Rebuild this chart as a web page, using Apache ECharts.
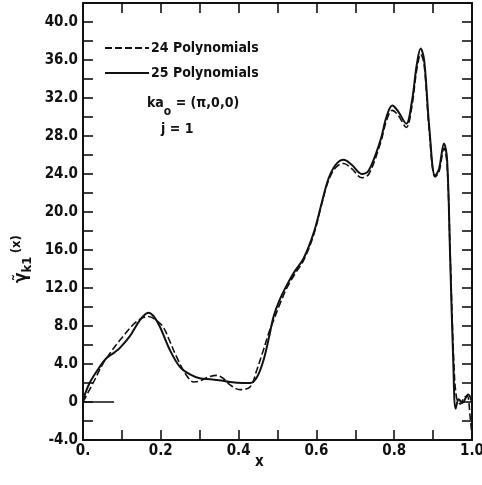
<!DOCTYPE html>
<html>
<head>
<meta charset="utf-8">
<script src="https://cdn.jsdelivr.net/npm/echarts@6/dist/echarts.min.js"></script>
<style>
html,body{margin:0;padding:0;background:#fff;}
#c{width:482px;height:485px;}
</style>
</head>
<body>
<div id="c"></div>
<script>
// ---- data ----
const seriesNames = ['24 Polynomials', '25 Polynomials'];

const dashedX = [0.0, 0.026, 0.052, 0.069, 0.085, 0.103, 0.128, 0.15, 0.168, 0.185, 0.206, 0.222, 0.24, 0.266, 0.285, 0.30, 0.32, 0.344, 0.36, 0.378, 0.404, 0.43, 0.447, 0.464, 0.477, 0.49, 0.505, 0.524, 0.545, 0.567, 0.593, 0.614, 0.631, 0.65, 0.67, 0.69, 0.717, 0.735, 0.765, 0.78, 0.795, 0.81, 0.831, 0.845, 0.858, 0.868, 0.877, 0.89, 0.905, 0.915, 0.928, 0.936, 0.944, 0.953, 0.96, 0.97, 0.98, 0.988, 0.995, 1.0];
const dashedY = [0.0, 2.0, 4.1, 5.1, 6.0, 6.9, 8.1, 8.8, 9.0, 8.7, 7.9, 6.5, 4.8, 2.8, 2.1, 2.2, 2.6, 2.8, 2.5, 1.8, 1.3, 1.6, 3.4, 5.5, 7.2, 8.6, 10.2, 12.0, 13.5, 14.9, 17.6, 20.9, 23.3, 24.7, 25.1, 24.6, 23.6, 24.0, 27.3, 29.6, 30.7, 30.2, 28.9, 31.0, 35.0, 36.6, 35.5, 28.6, 23.7, 24.2, 26.7, 25.0, 15.5, 4.5, 0.5, -0.2, 0.5, 0.6, -1.5, -3.6];

const solidX = [0.0, 0.017, 0.043, 0.06, 0.08, 0.095, 0.12, 0.146, 0.168, 0.182, 0.198, 0.223, 0.249, 0.275, 0.30, 0.327, 0.35, 0.378, 0.41, 0.43, 0.447, 0.464, 0.477, 0.49, 0.505, 0.524, 0.545, 0.567, 0.593, 0.614, 0.631, 0.65, 0.67, 0.69, 0.717, 0.735, 0.765, 0.78, 0.795, 0.81, 0.831, 0.845, 0.858, 0.868, 0.877, 0.89, 0.905, 0.915, 0.928, 0.936, 0.944, 0.952, 0.958, 0.966, 0.975, 0.99, 1.0];
const solidY = [0.2, 2.0, 3.7, 4.6, 5.2, 5.7, 6.9, 8.6, 9.4, 9.0, 7.9, 5.5, 3.7, 2.9, 2.5, 2.4, 2.3, 2.1, 2.0, 2.0, 2.6, 4.4, 6.6, 9.0, 10.7, 12.3, 13.8, 15.1, 17.8, 21.0, 23.5, 25.0, 25.5, 25.0, 24.0, 24.4, 27.6, 30.0, 31.2, 30.6, 29.3, 31.5, 35.5, 37.2, 36.0, 29.0, 23.8, 24.5, 27.2, 25.5, 15.0, 4.0, -0.7, 0.3, -0.1, 0.8, 0.0];

// short baseline segment at y = 0 near the origin
const baseX = [0.0, 0.08];
const baseY = [0.0, 0.0];

const xMin = 0, xMax = 1.0, xStep = 0.1;
const yMin = -4, yMax = 42, yStep = 2;

// ---- chart ----
const zip = (a, b) => a.map((v, i) => [v, b[i]]);
const FONT = "'Liberation Sans Narrow','DejaVu Sans Condensed','DejaVu Sans',sans-serif";
const ink = '#111';

const chart = echarts.init(document.getElementById('c'), null, {renderer: 'canvas'});

const tickStyle = {show: true, inside: true, length: 10, lineStyle: {color: ink, width: 1.6}};
const axisLine = {show: true, onZero: false, lineStyle: {color: ink, width: 2}};

chart.setOption({
  animation: false,
  backgroundColor: '#fff',
  grid: {left: 83, right: 10, top: 3, bottom: 45, containLabel: false, outerBoundsMode: 'none'},
  legend: {
    data: seriesNames,
    orient: 'vertical',
    left: 99, top: 36,
    itemWidth: 44, itemHeight: 14, itemGap: 11,
    itemStyle: {opacity: 0},
    textStyle: {fontFamily: FONT, fontWeight: 'bold', fontSize: 14, color: ink, padding: [0, 0, 0, -3]},
    inactiveColor: ink
  },
  xAxis: [{
    type: 'value', min: xMin, max: xMax, interval: xStep,
    position: 'bottom',
    axisLine: axisLine, axisTick: tickStyle, splitLine: {show: false},
    axisLabel: {
      color: ink, fontFamily: FONT, fontWeight: 'bold', fontSize: 15, margin: 4,
      formatter: v => {
        const k = Math.round(v * 10);
        if (k % 2 !== 0) return '';
        if (k === 0) return '0.';
        return (k / 10).toFixed(1);
      }
    }
  }, {
    type: 'value', min: xMin, max: xMax, interval: xStep,
    position: 'top',
    axisLine: axisLine, axisTick: tickStyle, splitLine: {show: false},
    axisLabel: {show: false}
  }],
  yAxis: [{
    type: 'value', min: yMin, max: yMax, interval: yStep,
    position: 'left',
    axisLine: axisLine, axisTick: tickStyle, splitLine: {show: false},
    axisLabel: {
      color: ink, fontFamily: FONT, fontWeight: 'bold', fontSize: 15, margin: 5,
      formatter: v => {
        const k = Math.round(v);
        if (k % 4 !== 0 || k > 40) return '';
        if (k === 0) return '0';
        return k.toFixed(1);
      }
    }
  }, {
    type: 'value', min: yMin, max: yMax, interval: yStep,
    position: 'right',
    axisLine: axisLine, axisTick: tickStyle, splitLine: {show: false},
    axisLabel: {show: false}
  }],
  graphic: [
    {
      type: 'text', left: 147, top: 96,
      style: {
        text: '{a|ka}{s|o}{a| = (π,0,0)}',
        rich: {
          a: {fontFamily: FONT, fontWeight: 'bold', fontSize: 14, fill: ink, verticalAlign: 'top', lineHeight: 22},
          s: {fontFamily: FONT, fontWeight: 'bold', fontSize: 12, fill: ink, verticalAlign: 'bottom', lineHeight: 22}
        }
      }
    },
    {
      type: 'text', left: 161, top: 122,
      style: {text: 'j = 1', fontFamily: FONT, fontWeight: 'bold', fontSize: 14, fill: ink}
    },
    {
      type: 'text', left: 255, top: 455,
      style: {text: 'x', fontFamily: FONT, fontWeight: 'bold', fontSize: 15, fill: ink}
    },
    {
      type: 'text', x: 10, y: 283, rotation: Math.PI / 2,
      style: {
        text: '{g|γ̃}{s|k1} {p|(x)}',
        rich: {
          g: {fontFamily: FONT, fontWeight: 'bold', fontSize: 17, fill: ink, verticalAlign: 'middle', lineHeight: 24},
          s: {fontFamily: FONT, fontWeight: 'bold', fontSize: 13, fill: ink, verticalAlign: 'bottom', lineHeight: 24},
          p: {fontFamily: FONT, fontWeight: 'bold', fontSize: 13, fill: ink, verticalAlign: 'top', lineHeight: 24}
        }
      }
    }
  ],
  series: [
    {
      name: seriesNames[0], type: 'line', data: zip(dashedX, dashedY),
      symbol: 'none', smooth: 0.35,
      lineStyle: {color: ink, width: 1.6, type: [7, 3]},
      itemStyle: {color: ink}, z: 3
    },
    {
      name: seriesNames[1], type: 'line', data: zip(solidX, solidY),
      symbol: 'none', smooth: 0.35,
      lineStyle: {color: ink, width: 2, type: 'solid'},
      itemStyle: {color: ink}, z: 4
    },
    {
      name: 'baseline', type: 'line', data: zip(baseX, baseY),
      symbol: 'none', lineStyle: {color: ink, width: 1.5}, z: 2
    }
  ]
});
</script>
</body>
</html>
